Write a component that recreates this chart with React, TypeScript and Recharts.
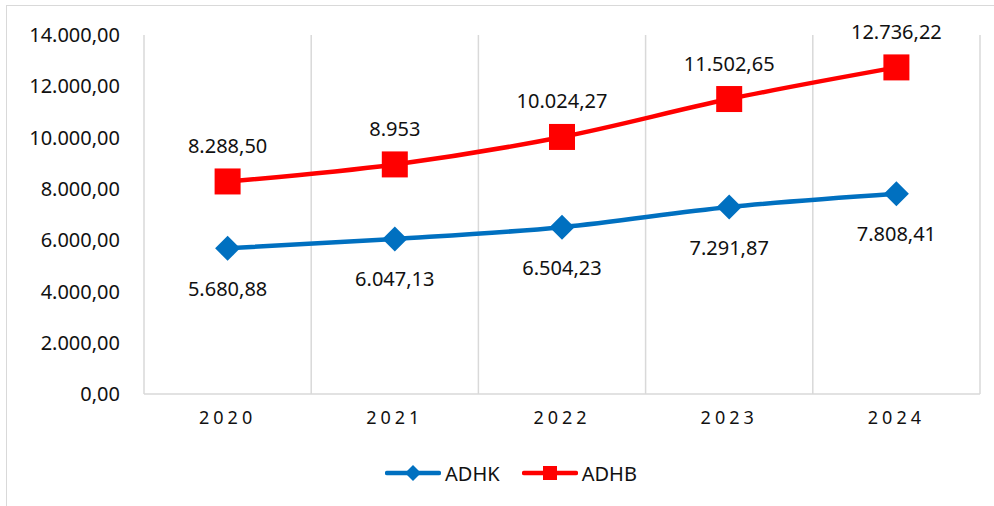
import React from 'react';
import {
  LineChart,
  Line,
  XAxis,
  YAxis,
  CartesianGrid,
  Legend,
  LabelList,
} from 'recharts';

const tahun = ['2020', '2021', '2022', '2023', '2024'];
const adhk = [5680.88, 6047.13, 6504.23, 7291.87, 7808.41];
const adhb = [8288.5, 8953, 10024.27, 11502.65, 12736.22];
const labelAdhk = ['5.680,88', '6.047,13', '6.504,23', '7.291,87', '7.808,41'];
const labelAdhb = ['8.288,50', '8.953', '10.024,27', '11.502,65', '12.736,22'];
const yTicks = [0, 2000, 4000, 6000, 8000, 10000, 12000, 14000];

const BIRU = '#0070C0';
const MERAH = '#FF0000';
const FONT = '"Noto Sans", "Open Sans", sans-serif';

const data = tahun.map((t, i) => ({
  tahun: t,
  ADHK: adhk[i],
  ADHB: adhb[i],
  lblK: labelAdhk[i],
  lblB: labelAdhb[i],
}));

// format 14000 -> 14.000,00
const formatAngka = (v: number) => {
  const [bulat, desimal] = v.toFixed(2).split('.');
  return bulat.replace(/\B(?=(\d{3})+(?!\d))/g, '.') + ',' + desimal;
};

const KotakDot = (props: any) => {
  const { cx, cy, index } = props;
  return <rect key={`b-${index}`} x={cx - 13} y={cy - 13} width={26} height={26} fill={MERAH} />;
};

const BelahDot = (props: any) => {
  const { cx, cy, index } = props;
  const r = 12.5;
  return (
    <polygon
      key={`k-${index}`}
      points={`${cx},${cy - r} ${cx + r},${cy} ${cx},${cy + r} ${cx - r},${cy}`}
      fill={BIRU}
    />
  );
};

const labelAtas = (props: any) => {
  const { x, y, value, index } = props;
  return (
    <text key={`la-${index}`} x={x} y={y - 36} textAnchor="middle" dominantBaseline="central"
      fontSize={20} fontFamily={FONT} fill="#111">
      {value}
    </text>
  );
};

const labelBawah = (props: any) => {
  const { x, y, value, index } = props;
  return (
    <text key={`lb-${index}`} x={x} y={y + 40} textAnchor="middle" dominantBaseline="central"
      fontSize={20} fontFamily={FONT} fill="#111">
      {value}
    </text>
  );
};

const LegendKustom = () => (
  <div style={{ display: 'flex', justifyContent: 'center', paddingLeft: 28, height: 36, alignItems: 'center', fontFamily: FONT, fontSize: 20, color: '#111' }}>
    <svg width={56} height={24}>
      <line x1={2} y1={12} x2={54} y2={12} stroke={BIRU} strokeWidth={4.5} strokeLinecap="round" />
      <polygon points="28,4 36,12 28,20 20,12" fill={BIRU} />
    </svg>
    <span style={{ marginLeft: 4, marginRight: 22 }}>ADHK</span>
    <svg width={56} height={24}>
      <line x1={2} y1={12} x2={54} y2={12} stroke={MERAH} strokeWidth={4.5} strokeLinecap="round" />
      <rect x={21} y={5} width={14} height={14} fill={MERAH} />
    </svg>
    <span style={{ marginLeft: 4 }}>ADHB</span>
  </div>
);

export default function App() {
  return (
    <div style={{ position: 'absolute', left: 0, top: 0, width: 994, height: 506, background: '#fff', overflow: 'hidden' }}>
      <div style={{ position: 'absolute', left: 6, top: 5, width: 1000, height: 600, border: '1px solid #d9d9d9' }} />
      <div style={{ position: 'absolute', left: 0, top: 0 }}>
        <LineChart width={994} height={506} data={data} margin={{ top: 35, right: 14, left: 0, bottom: 46 }}>
          <CartesianGrid
            horizontal={false}
            stroke="#d9d9d9"
            strokeWidth={1.5}
            verticalCoordinatesGenerator={({ offset }: any) =>
              tahun.map((_, i) => offset.left + (i * offset.width) / tahun.length).concat(offset.left + offset.width)
            }
          />
          <XAxis
            dataKey="tahun"
            padding={{ left: 83.6, right: 83.6 }}
            axisLine={{ stroke: '#d9d9d9', strokeWidth: 1.5 }}
            tickLine={false}
            tickSize={0}
            tickMargin={17}
            tick={{ fontSize: 18, fill: '#111', fontFamily: FONT, letterSpacing: 4 }}
          />
          <YAxis
            width={144}
            domain={[0, 14000]}
            ticks={yTicks}
            tickFormatter={formatAngka}
            axisLine={false}
            tickLine={false}
            tickSize={0}
            tickMargin={24}
            tick={{ fontSize: 20, fill: '#111', fontFamily: FONT }}
          />
          <Legend verticalAlign="bottom" content={LegendKustom} wrapperStyle={{ top: 455, left: 0, width: 994 }} />
          <Line
            type="monotone"
            dataKey="ADHK"
            stroke={BIRU}
            strokeWidth={4.5}
            dot={BelahDot}
            activeDot={false}
            isAnimationActive={false}
          >
            <LabelList dataKey="lblK" content={labelBawah} />
          </Line>
          <Line
            type="monotone"
            dataKey="ADHB"
            stroke={MERAH}
            strokeWidth={4.5}
            dot={KotakDot}
            activeDot={false}
            isAnimationActive={false}
          >
            <LabelList dataKey="lblB" content={labelAtas} />
          </Line>
        </LineChart>
      </div>
    </div>
  );
}
